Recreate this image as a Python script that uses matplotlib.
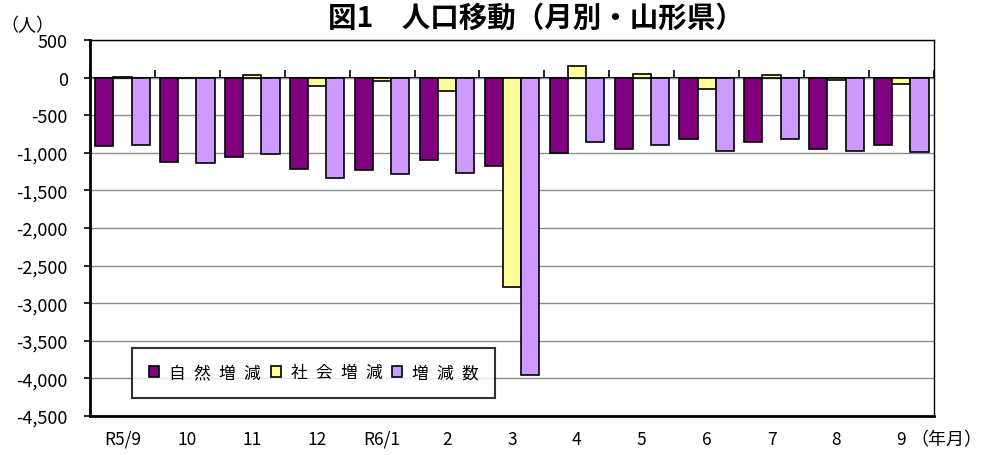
import numpy as np
import matplotlib
matplotlib.use('Agg')
import matplotlib.pyplot as plt
from matplotlib.ticker import FuncFormatter

plt.rcParams['font.family'] = ['Noto Sans CJK JP', 'DejaVu Sans']

# 月別の人口移動（山形県）
months = ['R5/9', '10', '11', '12', 'R6/1', '2', '3', '4', '5', '6', '7', '8', '9']
natural = [-905, -1120, -1050, -1220, -1230, -1090, -1170, -1005, -950, -820, -850, -950, -900]
social = [15, -10, 35, -110, -50, -180, -2780, 155, 55, -155, 30, -30, -90]
total = [-890, -1130, -1015, -1330, -1280, -1270, -3950, -850, -895, -975, -820, -980, -990]
labels = ['自\u2002然\u2002増\u2002減', '社\u2002会\u2002増\u2002減', '増\u2002減\u2002数']
colors = ['#800080', '#FFFF99', '#CC99FF']

fig, ax = plt.subplots(figsize=(9.83, 4.56), dpi=100)
fig.subplots_adjust(left=0.0916, right=0.950, bottom=0.0855, top=0.910)

x = np.arange(len(months))
w = 0.28
for k, (vals, lab, col) in enumerate(zip([natural, social, total], labels, colors)):
    ax.bar(x + (k - 1) * w, vals, w, color=col, edgecolor='black',
           linewidth=1.2, label=lab, zorder=3)

ymin, ymax = -4500, 500
ax.set_xlim(-0.5, len(months) - 0.5)
ax.set_ylim(ymin, ymax)
ax.set_yticks(np.arange(ymin, ymax + 1, 500))
ax.yaxis.set_major_formatter(FuncFormatter(lambda v, p: f'{int(v):,}'))
ax.tick_params(axis='y', direction='out', length=4, width=1.2, pad=12, labelsize=13)
ax.set_xticks(x)
ax.set_xticklabels(months)
ax.tick_params(axis='x', length=0, pad=10, labelsize=12.5)

ax.yaxis.grid(True, color='#8c8c8c', linewidth=1.0)
ax.set_axisbelow(True)

for s in ['left', 'bottom']:
    ax.spines[s].set_linewidth(2.0)
for s in ['top', 'right']:
    ax.spines[s].set_linewidth(1.0)

# 0 の位置の横軸（目盛は上向き）
zero_pos = (0 - ymin) / (ymax - ymin)
sec = ax.secondary_xaxis(zero_pos)
sec.set_xticks(np.arange(-0.5, len(months), 1))
sec.set_xticklabels([])
sec.tick_params(axis='x', direction='out', length=6, width=1.2, colors='black')
sec.spines['bottom'].set_linewidth(1.5)
sec.spines['top'].set_linewidth(1.5)

leg = ax.legend(loc='lower left', bbox_to_anchor=(0.05, 0.048), ncol=3,
                fontsize=12, frameon=True, fancybox=False, edgecolor='black',
                handlelength=0.6, handleheight=0.6, handletextpad=0.6,
                columnspacing=0.6, borderpad=1.0, borderaxespad=0)
leg.get_frame().set_linewidth(1.5)
leg.set_zorder(5)

fig.text(0.545, 0.958, '図1　人口移動（月別・山形県）', ha='center', va='center',
         fontsize=20.5, fontweight='bold')
fig.text(0.0, 0.942, '（人）', ha='left', va='center', fontsize=13)
fig.text(0.999, 0.035, '（年月）', ha='right', va='center', fontsize=13)

fig.savefig('out.png', dpi=100)
